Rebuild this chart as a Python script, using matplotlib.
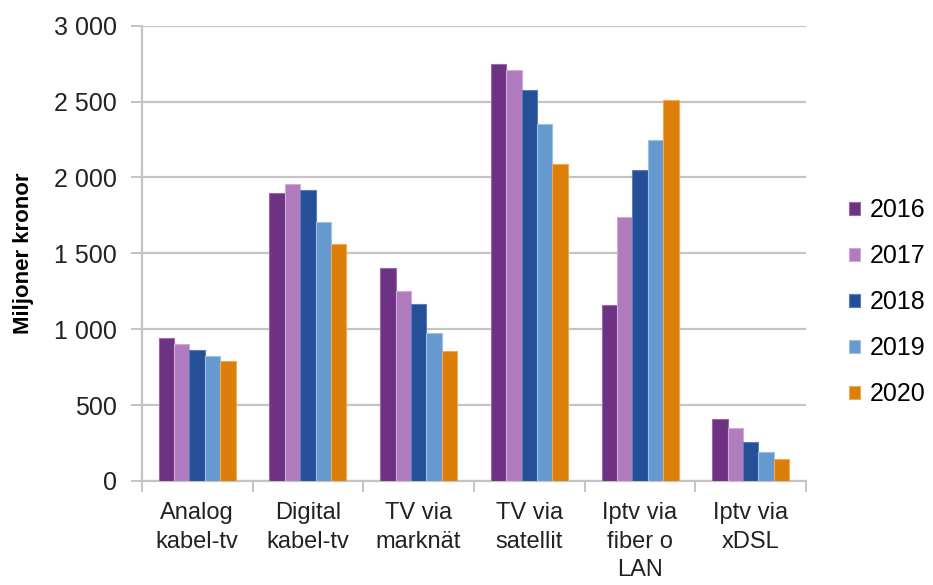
import numpy as np
import matplotlib
matplotlib.use("Agg")
import matplotlib.pyplot as plt
from matplotlib.ticker import FixedLocator

plt.rcParams['font.family'] = ['Liberation Sans', 'DejaVu Sans']

kategorier = ["Analog\nkabel-tv", "Digital\nkabel-tv", "TV via\nmarknät",
              "TV via\nsatellit", "Iptv via\nfiber o\nLAN", "Iptv via\nxDSL"]
ar = ["2016", "2017", "2018", "2019", "2020"]
v2016 = [940, 1895, 1405, 2750, 1160, 405]
v2017 = [900, 1955, 1252, 2706, 1742, 348]
v2018 = [865, 1915, 1167, 2578, 2046, 256]
v2019 = [823, 1705, 973, 2352, 2249, 190]
v2020 = [788, 1560, 853, 2091, 2511, 146]
farger = ["#6E3282", "#B07CBE", "#254F97", "#6699CF", "#DC7F0A"]
kanter = ["#9A6AAC", "#D0A8DA", "#5A7DBE", "#9DBFE4", "#F0AA55"]

y_ticks = [0, 500, 1000, 1500, 2000, 2500, 3000]
y_labels = ["0", "500", "1 000", "1 500", "2 000", "2 500", "3 000"]

serier = [v2016, v2017, v2018, v2019, v2020]

fig = plt.figure(figsize=(9.33, 5.85), dpi=100)
ax = fig.add_axes([0.152, 0.178, 0.712, 0.778])

x = np.arange(len(kategorier))
bredd = 0.139
for i, (vals, f, k) in enumerate(zip(serier, farger, kanter)):
    ax.bar(x + (i - 2) * bredd, vals, bredd, color=f, edgecolor=k,
           linewidth=0.8, label=ar[i], zorder=3)

ax.set_xlim(-0.5, len(kategorier) - 0.5)
ax.set_ylim(0, 3000)
ax.set_yticks(y_ticks)
ax.set_yticklabels(y_labels, fontsize=18, color="#222222")
ax.yaxis.grid(True, color="#C4C4C4", linewidth=1.6, zorder=0)

ax.set_xticks(x)
ax.set_xticklabels(kategorier, fontsize=17, color="#222222", linespacing=1.4)
ax.tick_params(axis='x', which='major', length=0, pad=15)
ax.xaxis.set_minor_locator(FixedLocator(np.arange(-0.5, len(kategorier), 1.0)))
ax.tick_params(axis='x', which='minor', length=8, width=1.4, color="#C4C4C4")
ax.tick_params(axis='y', length=8, width=1.4, color="#C4C4C4", pad=10)

for s in ["top", "right"]:
    ax.spines[s].set_visible(False)
for s in ["left", "bottom"]:
    ax.spines[s].set_color("#C4C4C4")
    ax.spines[s].set_linewidth(1.6)

ax.set_ylabel("Miljoner kronor", fontsize=16, fontweight="bold", labelpad=14)

leg = ax.legend(loc="center left", bbox_to_anchor=(0.899, 0.483),
                bbox_transform=fig.transFigure, frameon=False, fontsize=18,
                handlelength=0.45, handleheight=0.45, handletextpad=0.4,
                labelspacing=0.88, borderaxespad=0)

fig.savefig("out.png", dpi=100)
